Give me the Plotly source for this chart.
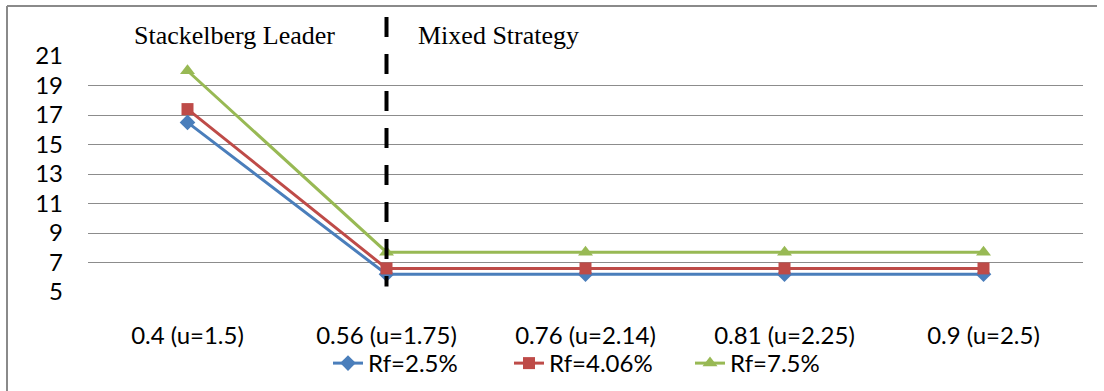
import plotly.graph_objects as go

categories = ["0.4 (u=1.5)", "0.56 (u=1.75)", "0.76 (u=2.14)", "0.81 (u=2.25)", "0.9 (u=2.5)"]
rf_25 = [16.5, 6.2, 6.2, 6.2, 6.2]
rf_406 = [17.4, 6.6, 6.6, 6.6, 6.6]
rf_75 = [20.0, 7.7, 7.7, 7.7, 7.7]
series_names = ["Rf=2.5%", "Rf=4.06%", "Rf=7.5%"]
y_ticks = [5, 7, 9, 11, 13, 15, 17, 19, 21]

colors = ["#4A7EBB", "#BE4B48", "#98B954"]
symbols = ["diamond", "square", "triangle-up"]
sizes = [12, 12, 13]

fig = go.Figure()
for name, vals, c, s, sz in zip(series_names, [rf_25, rf_406, rf_75], colors, symbols, sizes):
    fig.add_trace(go.Scatter(
        x=categories, y=vals, name=name, mode="lines+markers",
        line=dict(color=c, width=3),
        marker=dict(symbol=s, size=sz, color=c),
    ))

tick_font = dict(family="Lato, Open Sans, sans-serif", size=24, color="#000000")
serif_font = dict(family="Liberation Serif, Times New Roman, serif", size=26, color="black")

fig.update_layout(
    width=1104, height=391,
    margin=dict(l=88, r=21, t=56, b=98.5, autoexpand=False),
    paper_bgcolor="white", plot_bgcolor="white",
    showlegend=True,
    legend=dict(orientation="h", x=(328 - 88) / 995, xanchor="left", y=-0.303, yanchor="middle",
                font=tick_font, itemwidth=30, tracegroupgap=0, bgcolor="rgba(0,0,0,0)",
                entrywidth=136, entrywidthmode="pixels"),
    xaxis=dict(type="category", range=[-0.5, 4.5], showgrid=False, showline=False,
               zeroline=False, tickfont=tick_font, ticks="", ticklabelstandoff=27,
               automargin=False),
    yaxis=dict(range=[5, 21], tickvals=y_ticks, showgrid=True, gridcolor="#8C8C8C",
               gridwidth=1, zeroline=False, showline=False, tickfont=tick_font,
               ticks="", ticklabelstandoff=24, automargin=False),
    shapes=[
        dict(type="line", xref="x", yref="paper", x0=categories[1], x1=categories[1],
             y0=1.165, y1=0.023, line=dict(color="black", width=4, dash="20px,17px"),
             layer="above"),
        dict(type="line", xref="paper", yref="paper", x0=(7 - 88) / 995, x1=(7 - 88) / 995,
             y0=(292.5 - 6) / 236.5, y1=(292.5 - 395) / 236.5,
             line=dict(color="#8A8A8A", width=2)),
        dict(type="line", xref="paper", yref="paper", x0=(7 - 88) / 995, x1=(1097 - 88) / 995,
             y0=(292.5 - 6) / 236.5, y1=(292.5 - 6) / 236.5,
             line=dict(color="#8A8A8A", width=2)),
    ],
    annotations=[
        dict(text="Stackelberg Leader", xref="paper", yref="paper", x=(234 - 88) / 995,
             y=(292.5 - 35) / 236.5, showarrow=False, xanchor="center", yanchor="middle",
             font=serif_font),
        dict(text="Mixed Strategy", xref="paper", yref="paper", x=(498 - 88) / 995,
             y=(292.5 - 35) / 236.5, showarrow=False, xanchor="center", yanchor="middle",
             font=serif_font),
    ],
)

fig.write_html("out.html", config={"displayModeBar": False},
               post_script="document.body.style.margin='0px';")
